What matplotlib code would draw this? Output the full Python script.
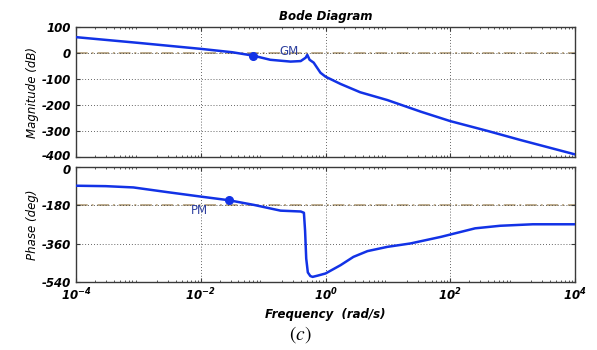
import matplotlib
matplotlib.use("Agg")
import matplotlib.pyplot as plt
import matplotlib.ticker as mticker
import matplotlib.transforms as mtrans
import numpy as np

# ── data ────────────────────────────────────────────────────
mag_freq = [1e-4, 1e-3, 1e-2, 0.032, 0.069, 0.13, 0.275, 0.40, 0.48, 0.51,
            0.555, 0.645, 0.83, 1.0, 1.74, 3.6, 9.8, 34, 100, 400, 1350, 1e4]
mag_db = [61, 39, 16, 3, -10, -26, -33, -31, -18, -7,
          -26, -37, -76, -91, -119, -151, -181, -226, -262, -300, -335, -390]

ph_freq = [1e-4, 3e-4, 8.3e-4, 2.9e-3, 1e-2, 0.028, 0.071, 0.19, 0.40, 0.45,
           0.47, 0.49, 0.52, 0.57, 0.62, 0.75, 1.0, 1.74, 2.8, 4.7, 9.8, 23,
           71, 250, 630, 2100, 1e4]
ph_deg = [-88, -90, -96, -118, -139, -156, -178, -205, -209, -215,
          -300, -430, -495, -512, -516, -510, -500, -461, -422, -395, -375, -359,
          -328, -288, -276, -269, -269]

gm_point = (0.069, -10)
pm_point = (0.028, -156)

mag_ticks = [100, 0, -100, -200, -300, -400]
ph_ticks = [0, -180, -360, -540]
freq_ticks = [1e-4, 1e-2, 1e0, 1e2, 1e4]
freq_labels = [r"$\mathbfit{10^{-4}}$", r"$\mathbfit{10^{-2}}$", r"$\mathbfit{10^{0}}$",
               r"$\mathbfit{10^{2}}$", r"$\mathbfit{10^{4}}$"]

BLUE = "#1232e6"
TAN = "#bdab8c"
SPINE = "#3a3a3a"

fig = plt.figure(figsize=(5.97, 3.5), dpi=100)
ax1 = fig.add_axes([0.1273, 0.5514, 0.836, 0.3714])
ax2 = fig.add_axes([0.1273, 0.1943, 0.836, 0.3286])

tick_font = dict(fontsize=8.5, fontweight="bold", fontstyle="italic")


def style(ax):
    ax.set_xscale("log")
    ax.set_xlim(1e-4, 1e4)
    ax.set_xticks(freq_ticks)
    ax.xaxis.set_minor_locator(mticker.LogLocator(base=10, subs=np.arange(2, 10), numticks=100))
    ax.tick_params(which="both", direction="in", top=True, right=True, color=SPINE)
    ax.tick_params(which="major", length=3)
    ax.tick_params(which="minor", length=1.5)
    ax.grid(True, which="major", linestyle=(0, (1, 2.5)), color="#333333", linewidth=0.6)
    for s in ax.spines.values():
        s.set_color(SPINE)
        s.set_linewidth(1.0)


def nudge(label, dy_pt):
    label.set_transform(label.get_transform() + mtrans.ScaledTranslation(0, dy_pt / 72, fig.dpi_scale_trans))


# ── magnitude ──
style(ax1)
ax1.axhline(0, color=TAN, linestyle=(0, (6, 2, 1, 2)), linewidth=1.4, zorder=1.5)
ax1.plot(mag_freq, mag_db, color=BLUE, linewidth=1.8, zorder=3)
ax1.plot(*gm_point, "o", color=BLUE, markersize=5.5, zorder=4)
ax1.text(0.26, 7, "GM", color="#2d3f9e", fontsize=8.5, ha="center", va="center")
ax1.set_ylim(-400, 100)
ax1.set_yticks(mag_ticks)
ax1.set_yticklabels([str(t) for t in mag_ticks], **tick_font)
ax1.set_xticklabels([])
ax1.set_ylabel("Magnitude (dB)", fontsize=8.5, fontstyle="italic", labelpad=2)
ax1.set_title("Bode Diagram", fontsize=8.5, fontweight="bold", fontstyle="italic", pad=5)
nudge(ax1.get_yticklabels()[-1], 1.5)

# ── phase ──
style(ax2)
ax2.axhline(-180, color=TAN, linestyle=(0, (6, 2, 1, 2)), linewidth=1.4, zorder=1.5)
ax2.plot(ph_freq, ph_deg, color=BLUE, linewidth=1.8, zorder=3)
ax2.plot(*pm_point, "o", color=BLUE, markersize=5.5, zorder=4)
ax2.text(0.0095, -205, "PM", color="#2d3f9e", fontsize=8.5, ha="center", va="center")
ax2.set_ylim(-540, 0)
ax2.set_yticks(ph_ticks)
ax2.set_yticklabels([str(t) for t in ph_ticks], **tick_font)
ax2.set_xticklabels(freq_labels, fontsize=8.5)
ax2.set_ylabel("Phase (deg)", fontsize=8.5, fontstyle="italic", labelpad=2)
ax2.set_xlabel("Frequency  (rad/s)", fontsize=8.5, fontweight="bold", fontstyle="italic", labelpad=3)
nudge(ax2.get_yticklabels()[0], -1.5)

fig.text(0.503, 0.045, r"$(c)$", fontsize=14, ha="center", va="center", math_fontfamily="stix")

fig.savefig("out.png", dpi=100)
